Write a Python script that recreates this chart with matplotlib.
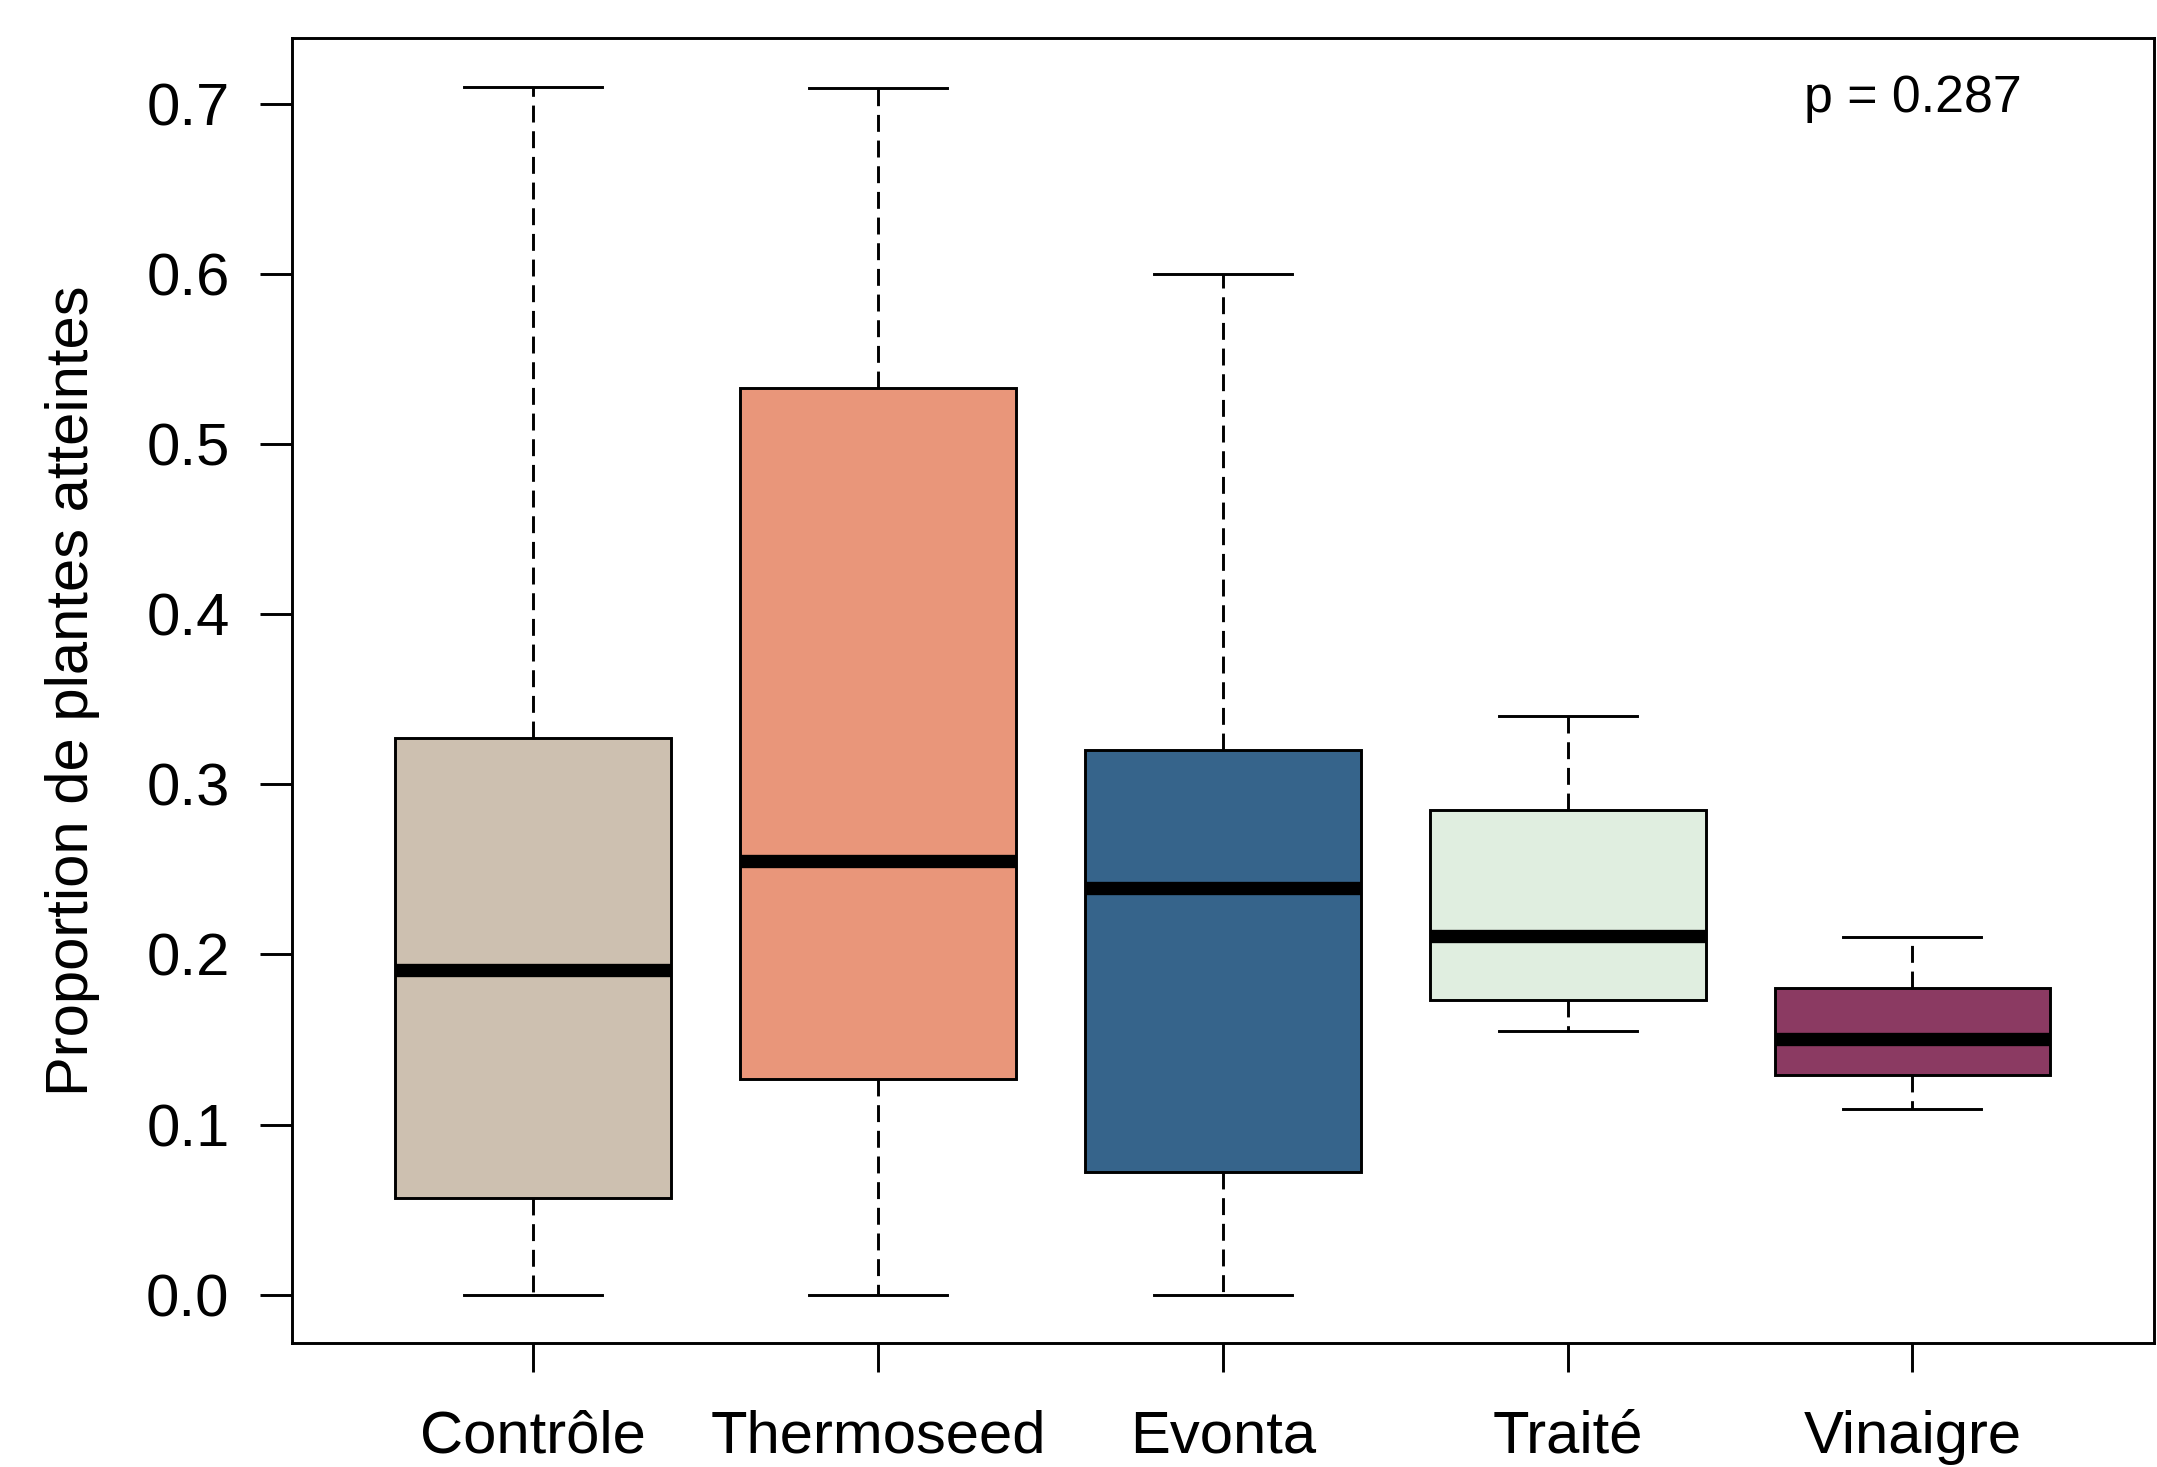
import matplotlib
matplotlib.use('Agg')
import matplotlib.pyplot as plt

plt.rcParams['font.family'] = ['Liberation Sans', 'DejaVu Sans']

# groupes et statistiques
groupes = ['Contrôle', 'Thermoseed', 'Evonta', 'Traité', 'Vinaigre']
couleurs = ['#CDC0B0', '#E9967A', '#36648B', '#E0EEE0', '#8B3A62']
moust_bas = [0.000, 0.000, 0.000, 0.155, 0.109]
q1 = [0.057, 0.127, 0.072, 0.173, 0.129]
mediane = [0.191, 0.255, 0.239, 0.211, 0.150]
q3 = [0.327, 0.533, 0.320, 0.285, 0.180]
moust_haut = [0.710, 0.709, 0.600, 0.340, 0.210]
p_valeur = 'p = 0.287'

stats = []
for i in range(len(groupes)):
    stats.append({'label': groupes[i], 'whislo': moust_bas[i], 'q1': q1[i],
                  'med': mediane[i], 'q3': q3[i], 'whishi': moust_haut[i],
                  'fliers': []})

fig = plt.figure(figsize=(10.785, 7.335), dpi=200)
ax = fig.add_axes([0.1354, 0.0845, 0.9985 - 0.1354, 0.9739 - 0.0845])

lw = 1.05
bp = ax.bxp(stats, positions=range(1, 6), widths=0.8, capwidths=0.4,
            patch_artist=True, showfliers=False,
            boxprops=dict(linewidth=lw, edgecolor='black'),
            medianprops=dict(color='black', linewidth=4.8, solid_capstyle='butt'),
            whiskerprops=dict(color='black', linewidth=lw, linestyle=(0, (5.8, 3.0))),
            capprops=dict(color='black', linewidth=lw))
for patch, c in zip(bp['boxes'], couleurs):
    patch.set_facecolor(c)

ax.set_xlim(0.3, 5.7)
ax.set_ylim(-0.0284, 0.7384)
ax.set_yticks([0.0, 0.1, 0.2, 0.3, 0.4, 0.5, 0.6, 0.7])
ax.set_yticklabels(['0.0', '0.1', '0.2', '0.3', '0.4', '0.5', '0.6', '0.7'])
ax.set_xticks(range(1, 6))
ax.set_xticklabels(groupes)
ax.tick_params(axis='y', length=11.5, width=lw, pad=11, labelsize=21.5)
ax.tick_params(axis='x', length=10.5, width=lw, pad=13.5, labelsize=21.5)
for s in ax.spines.values():
    s.set_linewidth(lw)

ax.set_ylabel('Proportion de plantes atteintes', fontsize=21.5)
ax.yaxis.label.set_va('center')
ax.yaxis.set_label_coords(-0.118, 0.5)

ax.text(5, 0.703, p_valeur, ha='center', va='center', fontsize=18.7)

fig.savefig('out.png', dpi=200)
